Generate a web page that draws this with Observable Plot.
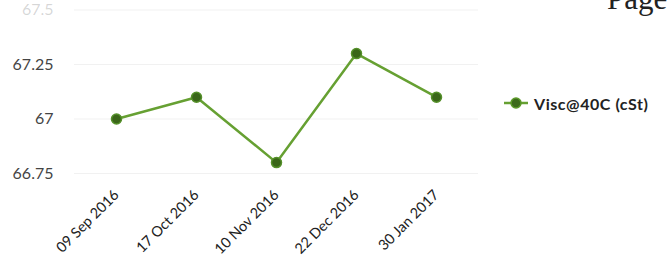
<!DOCTYPE html>
<html><head><meta charset="utf-8">
<script src="https://cdn.jsdelivr.net/npm/d3@7"></script>
<script src="https://cdn.jsdelivr.net/npm/@observablehq/plot@0.6"></script>
<style>
html,body{margin:0;padding:0;background:#fff;overflow:hidden;}
#wrap{position:relative;width:669px;height:264px;overflow:hidden;}
#chart{position:absolute;left:0;top:0;}
#legend{position:absolute;left:504px;top:94px;height:18px;display:flex;align-items:center;font-family:Lato,sans-serif;font-weight:700;font-size:16px;color:#222;letter-spacing:0.55px;white-space:nowrap;}
#legend svg{margin-right:6px;}
#page{position:absolute;left:607px;top:-19px;font-family:"Liberation Serif",serif;font-size:31px;color:#222;white-space:nowrap;}
</style></head><body>
<div id="wrap"><div id="chart"></div>
<div id="legend"><svg width="24" height="12"><line x1="0" y1="6" x2="24" y2="6" stroke="#66a032" stroke-width="2.5"></line><circle cx="12" cy="6" r="5" fill="#3d6b1c" stroke="#5c9a2a" stroke-width="1.5"></circle></svg><span id="legtext"></span></div>
<div id="page">Page</div>
</div>
<script>
const dates = ["09 Sep 2016", "17 Oct 2016", "10 Nov 2016", "22 Dec 2016", "30 Jan 2017"];
const visc = [67.0, 67.1, 66.8, 67.3, 67.1];
const yTicks = [66.75, 67, 67.25, 67.5];
const seriesName = "Visc@40C (cSt)";

const data = dates.map((d, i) => ({date: d, value: visc[i]}));
document.getElementById("legtext").textContent = seriesName;

const plot = Plot.plot({
  width: 669, height: 264,
  marginLeft: 74, marginRight: 191, marginTop: 9.5, marginBottom: 91,
  style: {fontFamily: "Lato, sans-serif", background: "transparent", overflow: "visible"},
  x: {type: "point", domain: dates, padding: 0.5},
  y: {domain: [66.75, 67.5]},
  marks: [
    Plot.gridY(yTicks, {stroke: "#f1f1f1", strokeOpacity: 1}),
    Plot.axisY(yTicks, {tickSize: 0, tickPadding: 21, fontSize: 16, fill: "#444", label: null, tickFormat: d => String(d)}),
    Plot.axisX({tickSize: 0, tickRotate: -45, tickPadding: 19, fontSize: 14.5, fill: "#222", label: null}),
    Plot.line(data, {x: "date", y: "value", stroke: "#66a032", strokeWidth: 2.5}),
    Plot.dot(data, {x: "date", y: "value", r: 5, fill: "#3a6619", stroke: "#55902a", strokeWidth: 1.5})
  ]
});
document.getElementById("chart").appendChild(plot);
d3.select(plot).selectAll("text").filter(function(){ return this.textContent === "67.5"; }).attr("fill-opacity", 0.22);
</script>
</body></html>
